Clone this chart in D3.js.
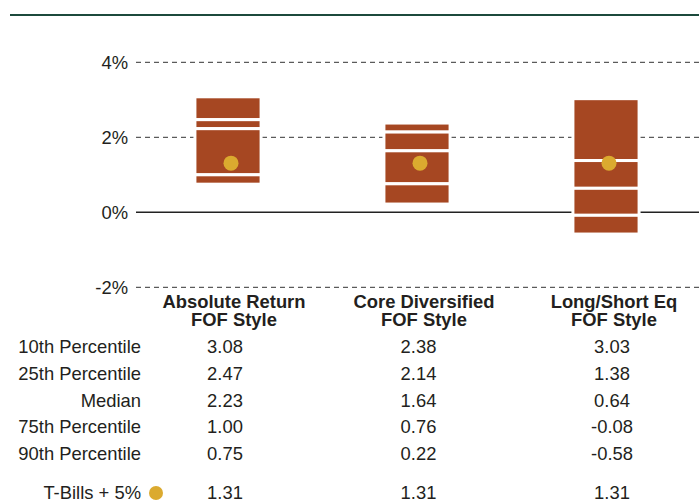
<!DOCTYPE html>
<html>
<head>
<meta charset="utf-8">
<script src="https://cdn.jsdelivr.net/npm/d3@7"></script>
<style>
  html, body { margin: 0; padding: 0; background: #fff; }
  svg { display: block; font-family: "Liberation Sans", Arial, Helvetica, sans-serif; }
</style>
</head>
<body>
<svg id="chart" width="699" height="504"></svg>
<script>
// ---- data ----
const categories = ["Absolute Return", "Core Diversified", "Long/Short Eq"];
const categorySub = ["FOF Style", "FOF Style", "FOF Style"];
const p10 = [3.08, 2.38, 3.03];
const p25 = [2.47, 2.14, 1.38];
const median = [2.23, 1.64, 0.64];
const p75 = [1.00, 0.76, -0.08];
const p90 = [0.75, 0.22, -0.58];
const benchmark = [1.31, 1.31, 1.31];
const rowLabels = ["10th Percentile", "25th Percentile", "Median", "75th Percentile", "90th Percentile"];
const benchmarkLabel = "T-Bills + 5%";
const yTicks = [4, 2, 0, -2];

// ---- styles ----
const boxFill = "#A64722";
const dotFill = "#DBAA2F";
const textColor = "#231f20";
const fontSize = 18.4;

const svg = d3.select("#chart");

// title rule
svg.append("line")
  .attr("x1", 10).attr("x2", 699).attr("y1", 15).attr("y2", 15)
  .attr("stroke", "#1C4A3C").attr("stroke-width", 2);

// scales
const y = d3.scaleLinear().domain([-2, 4]).range([287.3, 62.3]);
const x = d3.scaleBand().domain(categories)
  .range([133.5, 700.5]).paddingInner(0.65).paddingOuter(0.325);
const headerX = d3.scalePoint().domain(categories).range([234, 614]);
const valueX = d3.scalePoint().domain(categories).range([225, 612]);

// grid + y axis
const plotLeft = 136, plotRight = 699;
const yAxis = d3.axisLeft(y).tickValues(yTicks)
  .tickFormat(d => d + "%").tickSize(0).tickPadding(0);
const gAxis = svg.append("g").attr("transform", `translate(${plotLeft - 8},0)`).call(yAxis);
gAxis.select(".domain").remove();
gAxis.selectAll("text")
  .attr("font-size", fontSize).attr("fill", textColor)
  .attr("font-family", "\"Liberation Sans\", Arial, sans-serif")
  .attr("dy", "0.36em");

svg.append("g").selectAll("line").data(yTicks).join("line")
  .attr("x1", plotLeft).attr("x2", plotRight)
  .attr("y1", d => y(d)).attr("y2", d => y(d))
  .attr("stroke", d => d === 0 ? "#222" : "#333")
  .attr("stroke-width", d => d === 0 ? 1.5 : 1)
  .attr("stroke-dasharray", d => d === 0 ? null : "5,4");

// boxes: four segments each
const boxes = categories.map((c, i) => ({
  cat: c,
  segs: [[p10[i], p25[i]], [p25[i], median[i]], [median[i], p75[i]], [p75[i], p90[i]]],
  bench: benchmark[i]
}));

const gBox = svg.append("g");
boxes.forEach(b => {
  const g = gBox.append("g");
  g.selectAll("rect").data(b.segs).join("rect")
    .attr("x", x(b.cat))
    .attr("width", x.bandwidth())
    .attr("y", d => y(d[0]))
    .attr("height", d => y(d[1]) - y(d[0]))
    .attr("fill", boxFill)
    .attr("stroke", "#fff")
    .attr("stroke-width", 3);
  g.append("circle")
    .attr("cx", x(b.cat) + x.bandwidth() / 2 + 3)
    .attr("cy", y(b.bench))
    .attr("r", 7.5)
    .attr("fill", dotFill);
});

// column headers
const gHead = svg.append("g")
  .attr("font-size", fontSize).attr("font-weight", "bold").attr("fill", textColor)
  .attr("text-anchor", "middle");
categories.forEach((c, i) => {
  gHead.append("text").attr("x", headerX(c)).attr("y", 307.5).text(c);
  gHead.append("text").attr("x", headerX(c)).attr("y", 326).text(categorySub[i]);
});

// table rows
const rowY = d3.scalePoint().domain(rowLabels).range([353, 460]);
const series = [p10, p25, median, p75, p90];
const gTable = svg.append("g").attr("font-size", fontSize).attr("fill", textColor);
rowLabels.forEach((r, ri) => {
  gTable.append("text").attr("x", 141).attr("y", rowY(r))
    .attr("text-anchor", "end").text(r);
  categories.forEach((c, ci) => {
    gTable.append("text").attr("x", valueX(c)).attr("y", rowY(r))
      .attr("text-anchor", "middle").text(series[ri][ci].toFixed(2));
  });
});

// benchmark row
const benchY = 499;
gTable.append("text").attr("x", 141).attr("y", benchY)
  .attr("text-anchor", "end").text(benchmarkLabel);
gTable.append("circle").attr("cx", 156).attr("cy", benchY - 6).attr("r", 7)
  .attr("fill", dotFill);
categories.forEach((c, ci) => {
  gTable.append("text").attr("x", valueX(c)).attr("y", benchY)
    .attr("text-anchor", "middle").text(benchmark[ci].toFixed(2));
});
</script>
</body>
</html>
